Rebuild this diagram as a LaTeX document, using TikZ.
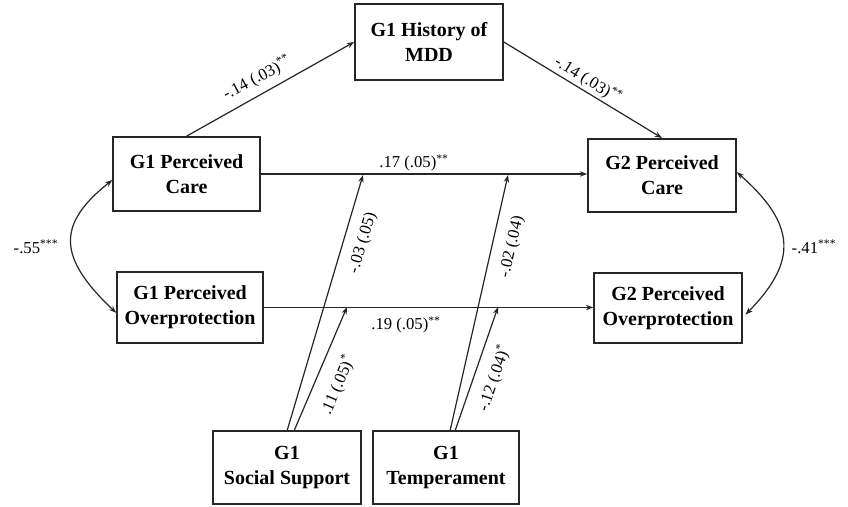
\documentclass[tikz,border=0pt]{standalone}
\usepackage{fontspec}
\setmainfont{Liberation Serif}
\usetikzlibrary{arrows.meta,calc}
\begin{document}
\begin{tikzpicture}[x=0.75pt,y=-0.75pt,
  box/.style={draw=black!85,line width=1.2pt,align=center,inner sep=0pt,
    font=\bfseries\fontsize{15}{18.75}\selectfont},
  arr/.style={draw=black!85,line width=0.9pt,-{Stealth[length=5.5pt,width=4pt]}},
  dbl/.style={draw=black!85,line width=0.9pt,{Stealth[length=5.5pt,width=4pt]}-{Stealth[length=5.5pt,width=4pt]}},
  lab/.style={inner sep=0pt,font=\fontsize{12.5}{14}\selectfont}]
\useasboundingbox (0,0) rectangle (848,506);
\fill[white] (0,0) rectangle (848,506);
% boxes
\node[box,minimum width=111pt,minimum height=57pt] (hist) at (429,42) {G1 History of\\MDD};
\node[box,minimum width=110pt,minimum height=55.5pt] (care1) at (186.5,174) {G1 Perceived\\Care};
\node[box,minimum width=111pt,minimum height=55pt] (care2) at (662,175.5) {G2 Perceived\\Care};
\node[box,minimum width=109.5pt,minimum height=53pt] (over1) at (190,307.5) {G1 Perceived\\Overprotection};
\node[box,minimum width=111pt,minimum height=52.5pt] (over2) at (668,308) {G2 Perceived\\Overprotection};
\node[box,minimum width=111pt,minimum height=55pt] (soc) at (287,467.5) {G1\\Social Support};
\node[box,minimum width=109.5pt,minimum height=55pt] (temp) at (446,467.5) {G1\\Temperament};
% coordinates
\coordinate (cl) at (care1.east);
\coordinate (ol) at (over1.east);
\coordinate (m1) at (363,175);
\coordinate (m2) at (347,307);
\coordinate (m3) at (508,175);
\coordinate (m4) at (498,307);
\coordinate (s1) at (287,431);
\coordinate (s2) at (294,431);
\coordinate (t1) at (450,431);
\coordinate (t2) at (455,431);
% paths
\draw[arr] (care1.north) -- (hist.west);
\draw[arr] (hist.east) -- (care2.north);
\draw[arr] (care1.east) -- (care1.east -| care2.west);
\draw[arr] (over1.east) -- (over1.east -| over2.west);
\draw[arr] (s1) -- (m1);
\draw[arr] (s2) -- (m2);
\draw[arr] (t1) -- (m3);
\draw[arr] (t2) -- (m4);
\draw[dbl] ([yshift=-4.5pt]care1.west) .. controls (57,224) and (57,257) .. ([yshift=-4pt]over1.west);
\draw[dbl] ([yshift=2.5pt]care2.east) .. controls (797,225) and (797,262) .. ([yshift=-5pt, xshift=2pt]over2.east);
% labels
\node[lab,rotate=28] (l1) at (257,78) {-.14 (.03)\textsuperscript{**}};
\node[lab,rotate=-31.4] (l2) at (588,80) {-.14 (.03)\textsuperscript{**}};
\node[lab] (l3) at (414,163) {.17 (.05)\textsuperscript{**}};
\node[lab] (l4) at (406,325) {.19 (.05)\textsuperscript{**}};
\node[lab,rotate=73.5] (l5) at (363,243) {-.03 (.05)};
\node[lab,rotate=77.2] (l6) at (512,247) {-.02 (.04)};
\node[lab,rotate=66.9] (l7) at (338,385) {.11 (.05)\textsuperscript{*}};
\node[lab,rotate=70.9] (l8) at (494,378) {-.12 (.04)\textsuperscript{*}};
\node[lab] (l9) at (36,247) {-.55\textsuperscript{***}};
\node[lab] (l10) at (814,247) {-.41\textsuperscript{***}};
\end{tikzpicture}
\end{document}
